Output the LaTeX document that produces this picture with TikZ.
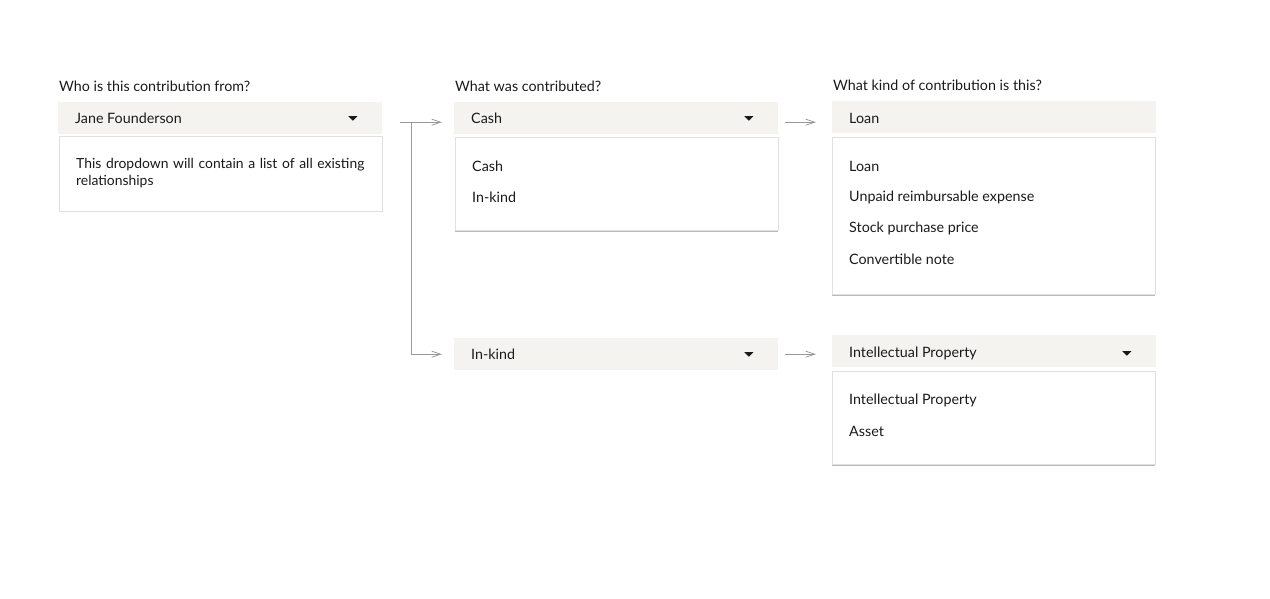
\documentclass[tikz,border=0pt]{standalone}
\usepackage{fontspec}
\setmainfont{Lato}
\usetikzlibrary{arrows.meta,shadows,calc}
\definecolor{hdr}{HTML}{F4F3EF}
\definecolor{ink}{HTML}{1A1A1A}
\definecolor{conn}{HTML}{9A9A9A}
\tikzset{
  x=1pt,y=-1pt,
  every node/.style={font=\fontsize{14.3}{17}\selectfont, text=ink, inner sep=0pt},
  hdrbox/.style={rectangle, fill=hdr, minimum width=324, minimum height=32, anchor=north west},
  panel/.style={rectangle, fill=white, draw=black!12, line width=0.6pt, minimum width=323, anchor=north west,
    drop shadow={shadow xshift=0pt, shadow yshift=-1.2pt, fill=black!45, opacity=0.6}},
  lbl/.style={anchor=west},
  item/.style={anchor=west},
  caret/.style={fill=ink},
  flow/.style={draw=conn, line width=0.8pt, -{Straight Barb[length=9pt,width=6pt,line width=0.8pt]}},
}
\begin{document}
\begin{tikzpicture}
\useasboundingbox (0,0) rectangle (1270,599);
% column 1
\node[lbl] (q1) at (59,86) {Who is this contribution from?};
\node[panel, minimum height=75] (p1) at (59,136) {};
\node[hdrbox] (h1) at (58,102) {};
\node[item] (h1t) at (75,118) {Jane Founderson};
\node[item, text width=300, align=left, font=\fontsize{13.9}{17}\selectfont] (p1t) at (76,173) {This dropdown will contain a list of all existing relationships};
% column 2
\node[lbl] (q2) at (455,86) {What was contributed?};
\node[panel, minimum height=93] (p2) at (455,137) {};
\node[hdrbox] (h2) at (454,102) {};
\node[item] (h2t) at (471,118) {Cash};
\node[item] (p2a) at (472,166) {Cash};
\node[item] (p2b) at (472,197) {In-kind};
\node[hdrbox] (h4) at (454,338) {};
\node[item] (h4t) at (471,354) {In-kind};
% column 3
\node[lbl] (q3) at (833,85) {What kind of contribution is this?};
\node[panel, minimum height=157] (p3) at (832,137) {};
\node[hdrbox] (h3) at (832,101) {};
\node[item] (h3t) at (849,118) {Loan};
\node[item] (p3a) at (849,166) {Loan};
\node[item] (p3b) at (849,197) {Unpaid reimbursable expense};
\node[item] (p3c) at (849,228) {Stock purchase price};
\node[item] (p3d) at (849,259) {Convertible note};
\node[panel, minimum height=93] (p5) at (832,371) {};
\node[hdrbox] (h5) at (832,335) {};
\node[item] (h5t) at (849,353) {Intellectual Property};
\node[item] (p5a) at (849,400) {Intellectual Property};
\node[item] (p5b) at (849,431) {Asset};
% carets
\foreach \n/\dy in {h1/0,h2/0,h4/0,h5/2}{
  \fill[caret] ($(\n.east)+(-34,-2+\dy)$) -- ++(9,0) -- ++(-4.5,4.5) -- cycle;
}
% connectors
\coordinate (s1) at ($(h1.east)+(18,4)$);
\coordinate (j1) at ($(h1.east)+(29,4)$);
\coordinate (e1) at ($(h2.west)+(-12,4)$);
\coordinate (e4) at ($(h4.west)+(-12,0)$);
\draw[flow] (s1) -- (e1);
\draw[flow] (j1) |- (e4);
\coordinate (s2) at ($(h2.east)+(7,4)$);
\coordinate (e2) at ($(h3.west)+(-16,5)$);
\draw[flow] (s2) -- (e2);
\coordinate (s4) at ($(h4.east)+(7,0)$);
\coordinate (e5) at ($(h5.west)+(-16,3)$);
\draw[flow] (s4) -- (e5);
\end{tikzpicture}
\end{document}
